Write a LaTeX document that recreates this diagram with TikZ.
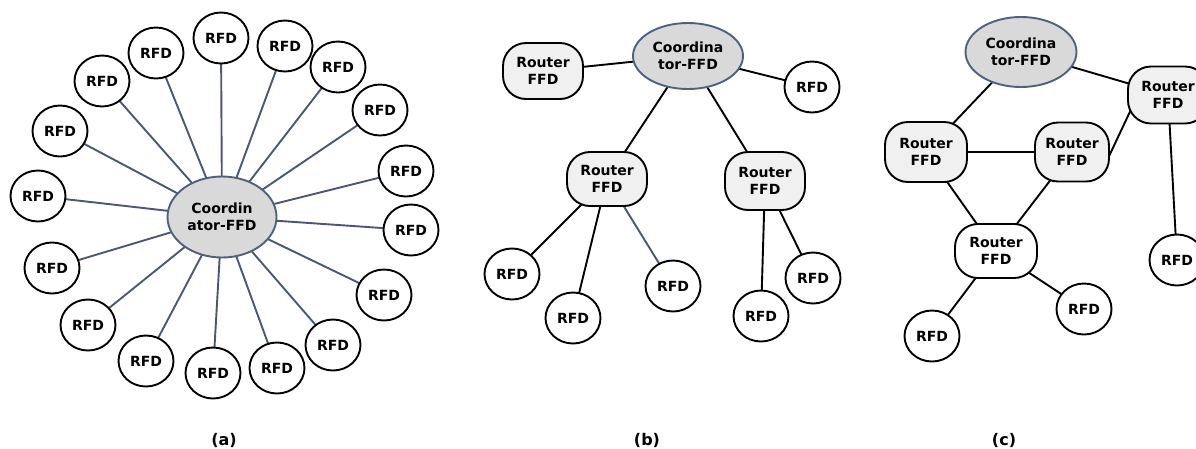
\documentclass[tikz,border=0pt]{standalone}
\usepackage{fontspec}
\setmainfont{DejaVu Sans}
\usetikzlibrary{shapes.geometric,backgrounds}
\definecolor{edgeblue}{HTML}{4A5875}
\definecolor{coordborder}{HTML}{4F6080}
\definecolor{coordfill}{HTML}{D9D9D9}
\definecolor{routerfill}{HTML}{F0F0F0}
\begin{document}
\begin{tikzpicture}[x=1pt,y=-1pt,
  lbl/.style={font=\fontsize{14}{17}\selectfont\bfseries},
  rfd/.style={ellipse,draw=black,line width=1.9pt,fill=white,minimum width=55pt,minimum height=51pt,inner sep=0pt,lbl},
  coord/.style={ellipse,draw=coordborder,line width=1.9pt,fill=coordfill,inner sep=0pt,align=center,lbl},
  router/.style={rectangle,rounded corners=23pt,draw=black,line width=1.9pt,fill=routerfill,minimum width=80pt,minimum height=56pt,inner sep=0pt,align=center,lbl},
  link/.style={line width=1.9pt,black},
  spoke/.style={line width=1.9pt,edgeblue},
  captxt/.style={font=\fontsize{16}{18}\selectfont\bfseries}]
\useasboundingbox (0,0) rectangle (1196,448);

% ---------------- (a) star ----------------
\node[coord,minimum width=109pt,minimum height=81pt] (ca) at (222,217) {Coordin\\ator-FFD};
\foreach \n/\x/\y in {1/221/38,2/285/46,3/338/67,4/380/110,5/406/171,6/411/230,7/384/295,8/333/345,9/277/368,10/213/373,11/146/361,12/88/325,13/52/268,14/38/196,15/60/131,16/102/81,17/156/53}{
  \node[rfd] (a\n) at (\x,\y) {RFD};
}
\begin{pgfonlayer}{background}
\foreach \n in {1,...,17}{\draw[spoke] (ca.center) -- (a\n.center);}
\end{pgfonlayer}

% ---------------- (b) tree ----------------
\node[coord,minimum width=110pt,minimum height=66pt] (cb) at (688,56) {Coordina\\tor-FFD};
\node[router] (rb0) at (543,71) {Router\\FFD};
\node[rfd] (bt) at (812,87) {RFD};
\node[router,minimum height=54pt] (rb1) at (607,179) {Router\\FFD};
\node[router,minimum height=58pt] (rb2) at (765,181) {Router\\FFD};
\node[rfd] (b1) at (512,274) {RFD};
\node[rfd] (b2) at (573,318) {RFD};
\node[rfd] (b3) at (673,286) {RFD};
\node[rfd] (b4) at (761,316) {RFD};
\node[rfd] (b5) at (813,278) {RFD};
\begin{pgfonlayer}{background}
\draw[link] (cb.center) -- (rb0.center);
\draw[link] (cb.center) -- (bt.center);
\draw[link] (cb.center) -- (rb1.center);
\draw[link] (cb.center) -- (rb2.center);
\draw[link] (rb1.center) -- (b1.center);
\draw[link] (rb1.center) -- (b2.center);
\draw[spoke] (rb1.center) -- (b3.center);
\draw[link] (rb2.center) -- (b4.center);
\draw[link] (rb2.center) -- (b5.center);
\end{pgfonlayer}

% ---------------- (c) mesh ----------------
\node[coord,minimum width=111pt,minimum height=70pt] (cc) at (1021,52) {Coordina\\tor-FFD};
\node[router,minimum height=57pt] (rc0) at (1168,95) {Router\\FFD};
\node[router,minimum width=82pt,minimum height=60pt] (rc1) at (926,152) {Router\\FFD};
\node[router,minimum width=74pt,minimum height=59pt] (rc2) at (1072,152) {Router\\FFD};
\node[router,fill=white,minimum width=82pt,minimum height=54pt] (rc3) at (996,251) {Router\\FFD};
\node[rfd] (c1) at (1177,260) {RFD};
\node[rfd] (c2) at (1084,309) {RFD};
\node[rfd] (c3) at (932,336) {RFD};
\begin{pgfonlayer}{background}
\draw[link] (cc.center) -- (rc1.center);
\draw[link] (cc.center) -- (rc0.center);
\draw[link] (rc1.center) -- (rc2.center);
\draw[link] ([shift={(-33,6)}]rc0.center) -- ([shift={(31,17)}]rc2.center);
\draw[link] (rc1.center) -- (rc3.center);
\draw[link] (rc2.center) -- (rc3.center);
\draw[link] (rc3.center) -- (c2.center);
\draw[link] (rc3.center) -- (c3.center);
\draw[link] (rc0.center) -- (c1.center);
\end{pgfonlayer}

% ---------------- captions ----------------
\node[captxt] (capa) at (224,440) {(a)};
\node[captxt] (capb) at (647,440) {(b)};
\node[captxt] (capc) at (1004,440) {(c)};
\end{tikzpicture}
\end{document}
